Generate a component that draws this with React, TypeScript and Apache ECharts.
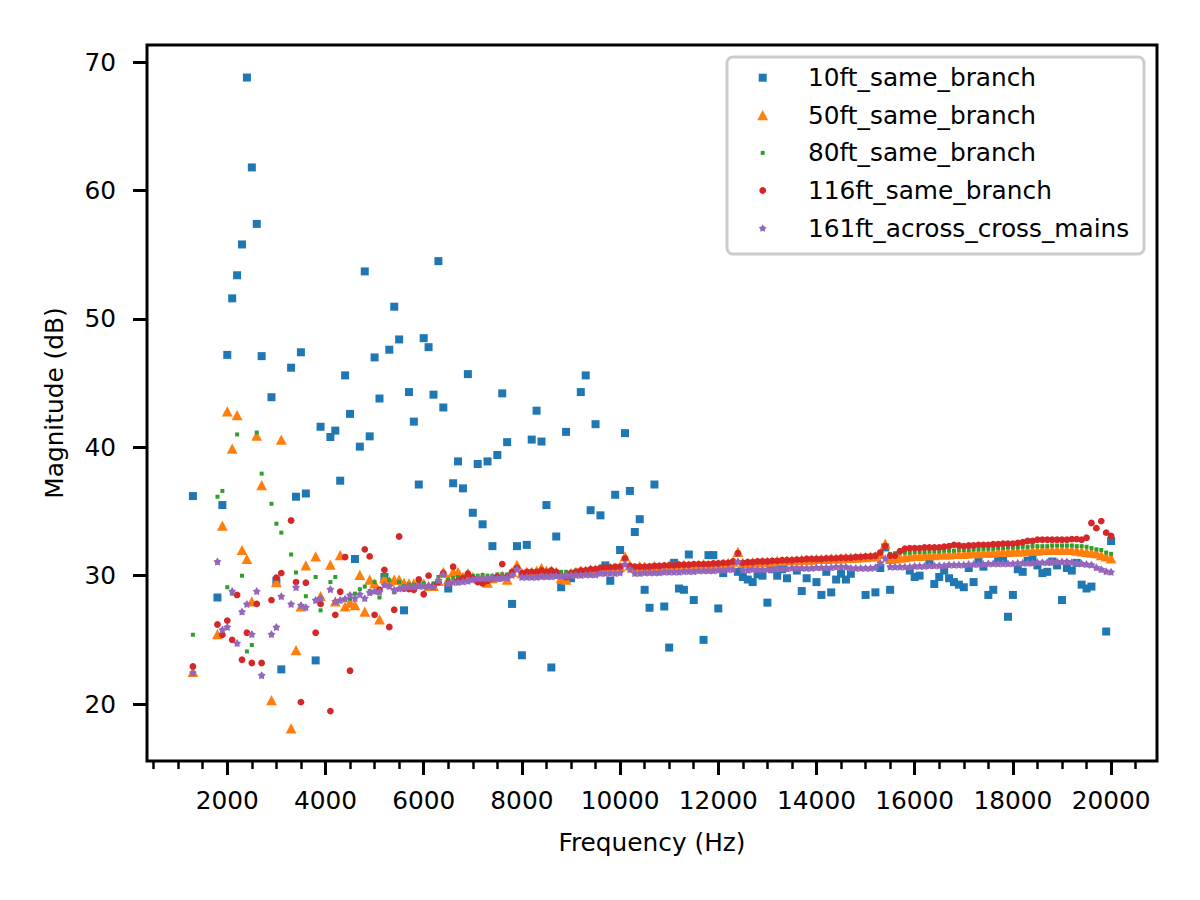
import React, { useEffect, useRef } from "react";
import * as echarts from "echarts";

// Frequency grid (Hz)
const FREQS = [
  1300, 1800, 1900,
  2000, 2100, 2200, 2300, 2400, 2500, 2600, 2700, 2800, 2900,
  3000, 3100, 3200, 3300, 3400, 3500, 3600, 3700, 3800, 3900,
  4000, 4100, 4200, 4300, 4400, 4500, 4600, 4700, 4800, 4900,
  5000, 5100, 5200, 5300, 5400, 5500, 5600, 5700, 5800, 5900,
  6000, 6100, 6200, 6300, 6400, 6500, 6600, 6700, 6800, 6900,
  7000, 7100, 7200, 7300, 7400, 7500, 7600, 7700, 7800, 7900,
  8000, 8100, 8200, 8300, 8400, 8500, 8600, 8700, 8800, 8900,
  9000, 9100, 9200, 9300, 9400, 9500, 9600, 9700, 9800, 9900,
  10000, 10100, 10200, 10300, 10400, 10500, 10600, 10700, 10800, 10900,
  11000, 11100, 11200, 11300, 11400, 11500, 11600, 11700, 11800, 11900,
  12000, 12100, 12200, 12300, 12400, 12500, 12600, 12700, 12800, 12900,
  13000, 13100, 13200, 13300, 13400, 13500, 13600, 13700, 13800, 13900,
  14000, 14100, 14200, 14300, 14400, 14500, 14600, 14700, 14800, 14900,
  15000, 15100, 15200, 15300, 15400, 15500, 15600, 15700, 15800, 15900,
  16000, 16100, 16200, 16300, 16400, 16500, 16600, 16700, 16800, 16900,
  17000, 17100, 17200, 17300, 17400, 17500, 17600, 17700, 17800, 17900,
  18000, 18100, 18200, 18300, 18400, 18500, 18600, 18700, 18800, 18900,
  19000, 19100, 19200, 19300, 19400, 19500, 19600, 19700, 19800, 19900,
  20000,
];

const FT10 = [
  36.2,
  28.3, 35.5,
  47.2, 51.6, 53.4, 55.8, 68.8, 61.8, 57.4, 47.1, null, 43.9,
  29.6, 22.7, null, 46.2, 36.15, 47.4, 36.4, null, 23.4, 41.6,
  null, 40.8, 41.3, 37.4, 45.6, 42.6, 31.3, 40.05, 53.7, 40.85,
  47.0, 43.8, 29.9, 47.6, 50.95, 48.4, 27.3, 44.3, 42.0, 37.1,
  48.5, 47.8, 44.1, 54.5, 43.1, 29.0, 37.2, 38.9, 36.8, 45.7,
  34.9, 38.7, 34.0, 38.9, 32.3, 39.4, 44.2, 40.4, 27.8, 32.3,
  23.8, 32.4, 40.6, 42.85, 40.45, 35.5, 22.85, 33.05, 29.1, 41.2,
  29.8, null, 44.3, 45.6, 35.1, 41.8, 34.7, 30.8, 29.6, 36.3,
  32.0, 41.1, 36.6, 33.4, 34.4, 28.9, 27.5, 37.1, null, 27.6,
  24.4, 31.0, 29.0, 28.9, 31.65, 28.1, null, 25.0, 31.6, 31.6,
  27.45, 30.2, null, null, 30.3, 29.9, 29.7, 29.5, 30.1, 30.0,
  27.9, 30.5, 30.0, 30.5, 29.8, null, 30.4, 28.8, 29.8, null,
  29.5, 28.5, 30.3, 28.7, 29.7, 30.15, 29.7, 30.15, null, null,
  28.5, null, 28.7, 30.6, 32.2, 28.9, null, null, null, 30.4,
  29.9, 30.0, null, 31.1, 29.35, 29.9, 30.4, 29.8, 29.5, 29.3,
  29.1, 30.6, 29.5, 31.3, 30.7, 28.5, 28.9, 31.3, 31.3, 26.8,
  28.5, 30.5, 30.3, 31.15, 31.3, 30.8, 30.2, 30.3, 31.1, 30.8,
  28.1, 30.6, 30.4, 31.0, 29.3, 29.0, 29.15, null, null, 25.65,
  32.7,
];

const FT50 = [
  22.5,
  25.45, 33.9,
  42.8, 39.9, 42.5, 32.0, 31.3, 28.0, 40.9, 37.05, null, 20.3,
  29.5, 40.6, null, 18.1, 24.2, 27.6, 30.8, null, 31.5, 28.4,
  null, 30.85, 28.0, 31.6, 27.6, 27.9, 27.7, 30.07, 27.2, 29.7,
  29.4, 26.6, 29.8, 29.55, 29.7, 29.7, 29.45, 29.4, 29.4, 29.45,
  29.4, 29.2, 29.2, 29.6, 30.3, 29.7, 30.3, 30.3, 29.9, 30.2,
  29.9, 29.8, 29.9, 29.45, 29.8, 29.9, 30.0, 29.7, 30.3, 30.85,
  30.2, 30.3, 30.3, 30.4, 30.6, 30.4, 30.4, 30.3, 29.8, 29.7,
  30.2, 30.3, 30.4, 30.4, 30.5, 30.5, 30.5, 30.6, 30.6, 30.6,
  30.7, 31.5, 30.8, 30.6, 30.75, 30.7, 30.65, 30.75, 30.7, 30.7,
  30.8, 30.75, 30.8, 30.85, 30.8, 30.8, 30.85, 30.9, 30.85, 30.9,
  30.9, 30.95, 31.0, 31.1, 31.85, 31.0, 31.0, 31.05, 31.05, 31.1,
  31.1, 31.1, 31.15, 31.15, 31.2, 31.2, 31.2, 31.25, 31.25, 31.25,
  31.3, 31.3, 31.3, 31.35, 31.35, 31.35, 31.4, 31.4, 31.4, 31.45,
  31.45, 31.5, 31.5, 31.7, 32.5, 31.3, 31.35, 31.4, 31.45, 31.5,
  31.55, 31.55, 31.6, 31.6, 31.6, 31.65, 31.65, 31.65, 31.7, 31.7,
  31.7, 31.75, 31.75, 31.75, 31.8, 31.8, 31.8, 31.85, 31.85, 31.85,
  31.9, 31.9, 31.9, 31.95, 31.95, 31.95, 32.0, 32.0, 32.0, 32.0,
  32.0, 32.0, 32.0, 31.95, 31.9, 31.85, 31.8, 31.75, 31.6, 31.5,
  31.35,
];

const FT80 = [
  25.4,
  36.15, 36.6,
  29.1, 28.6, 41.0, 30.0, 24.1, 24.6, 41.15, 37.95, null, 35.6,
  34.05, 33.35, null, 31.65, 30.25, null, 28.4, null, 29.9, 27.3,
  null, 29.5, 29.9, 28.8, null, 28.2, 28.6, 28.95, 29.15, 28.8,
  29.5, 28.3, 30.05, 29.65, 28.7, 29.5, 29.2, 29.3, 29.3, 29.4,
  29.4, 29.2, 29.4, 29.9, 30.1, 29.7, 29.8, 29.9, 29.9, 30.0,
  30.0, 30.0, 30.05, 30.0, 30.0, 30.1, 30.1, 30.1, 30.2, 30.5,
  30.2, 30.2, 30.3, 30.3, 30.3, 30.2, 30.2, 30.3, 30.3, 30.3,
  30.3, 30.4, 30.4, 30.45, 30.5, 30.5, 30.7, 30.6, 30.6, 30.6,
  30.7, 31.3, 30.8, 30.75, 30.75, 30.75, 30.8, 30.8, 30.8, 30.8,
  30.85, 30.85, 30.85, 30.9, 30.9, 30.9, 30.9, 30.95, 30.95, 30.95,
  31.0, 31.0, 31.0, 31.1, 31.7, 31.05, 31.1, 31.1, 31.1, 31.15,
  31.15, 31.2, 31.2, 31.2, 31.25, 31.25, 31.3, 31.3, 31.3, 31.3,
  31.35, 31.35, 31.35, 31.4, 31.4, 31.4, 31.45, 31.45, 31.5, 31.5,
  31.5, 31.55, 31.6, 31.8, 32.3, 31.7, 31.75, 31.8, 31.8, 31.8,
  31.85, 31.85, 31.85, 31.9, 31.9, 31.9, 31.95, 31.95, 31.95, 32.0,
  32.0, 32.0, 32.05, 32.05, 32.1, 32.1, 32.1, 32.15, 32.15, 32.2,
  32.2, 32.2, 32.25, 32.25, 32.3, 32.3, 32.3, 32.3, 32.35, 32.35,
  32.35, 32.35, 32.35, 32.3, 32.3, 32.25, 32.15, 32.05, 32.0, 31.8,
  31.7,
];

const FT116 = [
  22.93,
  26.2, 25.4,
  26.5, 25.0, 28.5, 23.45, 25.55, 23.2, 27.8, 23.2, null, 28.1,
  29.85, 30.2, null, 34.3, 29.5, 20.15, 29.45, null, 25.55, 27.8,
  null, 19.45, 26.95, 28.75, 31.45, 22.6, null, null, 32.05, 31.5,
  26.95, 28.9, 30.45, 26.0, 27.35, 33.05, 29.0, 28.95, 28.9, 29.7,
  28.55, 30.0, 29.2, 29.5, 30.2, 29.4, 30.7, 29.6, 29.8, 30.15,
  29.8, 29.5, 29.4, 29.6, 29.8, 29.9, 30.9, 29.9, 30.3, 30.6,
  30.2, 30.3, 30.3, 30.3, 30.4, 30.3, 30.4, 30.3, 30.0, 29.9,
  30.2, 30.3, 30.4, 30.4, 30.5, 30.5, 30.6, 30.65, 30.65, 30.7,
  30.7, 31.35, 30.75, 30.7, 30.7, 30.7, 30.7, 30.75, 30.75, 30.8,
  30.8, 30.8, 30.85, 30.85, 30.85, 30.9, 30.9, 30.9, 30.9, 30.95,
  30.95, 31.0, 31.0, 31.1, 31.75, 31.0, 31.05, 31.05, 31.1, 31.1,
  31.1, 31.15, 31.15, 31.2, 31.2, 31.2, 31.25, 31.25, 31.3, 31.3,
  31.3, 31.3, 31.35, 31.35, 31.35, 31.4, 31.4, 31.4, 31.45, 31.45,
  31.5, 31.5, 31.55, 31.8, 32.3, 31.55, 31.55, 31.9, 32.1, 32.15,
  32.15, 32.15, 32.2, 32.2, 32.2, 32.2, 32.25, 32.3, 32.4, 32.35,
  32.3, 32.35, 32.35, 32.4, 32.4, 32.4, 32.45, 32.45, 32.5, 32.5,
  32.5, 32.55, 32.6, 32.7, 32.7, 32.8, 32.8, 32.8, 32.8, 32.8,
  32.8, 32.8, 32.85, 32.85, 32.8, 32.95, 34.1, 33.7, 34.25, 33.35,
  33.1,
];

const FT161 = [
  22.45,
  31.1, 25.8,
  26.0, 28.8, 24.75, 27.2, 27.8, 25.45, 28.8, 22.25, null, 25.45,
  26.0, 28.4, null, 27.8, 29.1, 27.7, 27.55, null, 28.1, 28.25,
  null, 28.95, 28.0, 28.1, 28.2, 28.5, 28.25, 28.55, 28.25, 28.7,
  28.8, 28.75, 29.3, 29.2, 28.9, 29.0, 29.1, 29.15, 29.15, 29.2,
  29.2, 29.2, 29.15, 29.65, 30.1, 29.4, 29.5, 29.5, 29.55, 29.6,
  29.7, 29.8, 29.8, 29.8, 29.85, 29.8, 29.85, 29.85, 30.05, 30.5,
  29.9, 29.9, 29.9, 29.9, 29.95, 29.95, 29.95, 30.0, 30.0, 30.0,
  30.05, 30.05, 30.05, 30.1, 30.1, 30.1, 30.2, 30.2, 30.2, 30.2,
  30.25, 30.9, 30.5, 30.2, 30.2, 30.25, 30.25, 30.25, 30.25, 30.3,
  30.3, 30.3, 30.3, 30.35, 30.35, 30.35, 30.4, 30.4, 30.4, 30.4,
  30.45, 30.45, 30.5, 30.5, 31.1, 30.45, 30.45, 30.5, 30.5, 30.5,
  30.5, 30.5, 30.55, 30.55, 30.55, 30.6, 30.6, 30.6, 30.6, 30.6,
  30.65, 30.65, 30.65, 30.65, 30.7, 30.7, 30.7, 30.6, 30.6, 30.6,
  30.6, 30.6, 30.65, 31.0, 31.35, 30.7, 30.7, 30.7, 30.7, 30.7,
  30.75, 30.75, 30.75, 30.8, 30.8, 30.8, 30.8, 30.85, 30.85, 30.85,
  30.85, 30.9, 30.9, 30.9, 30.9, 30.95, 30.95, 30.95, 30.95, 30.95,
  30.95, 31.0, 31.0, 31.0, 31.0, 31.05, 31.05, 31.05, 31.1, 31.1,
  31.1, 31.1, 31.05, 31.0, 30.95, 30.9, 30.85, 30.65, 30.5, 30.35,
  30.3,
];

const SERIES_NAMES = [
  "10ft_same_branch",
  "50ft_same_branch",
  "80ft_same_branch",
  "116ft_same_branch",
  "161ft_across_cross_mains",
];

const X_MAJOR = [2000, 4000, 6000, 8000, 10000, 12000, 14000, 16000, 18000, 20000];
const X_MINOR = [
  500, 1000, 1500, 2000, 2500, 3000, 3500, 4000, 4500, 5000, 5500, 6000, 6500,
  7000, 7500, 8000, 8500, 9000, 9500, 10000, 10500, 11000, 11500, 12000, 12500,
  13000, 13500, 14000, 14500, 15000, 15500, 16000, 16500, 17000, 17500, 18000,
  18500, 19000, 19500, 20000, 20500,
];
const Y_TICKS = [20, 30, 40, 50, 60, 70];

const FONT = "DejaVu Sans";
const FS = 24.8;
const STAR =
  "path://M0,-10 L3.5,-4.8 L9.51,-3.09 L5.6,1.8 L5.88,8.09 L0,6 L-5.88,8.09 L-5.6,1.8 L-9.51,-3.09 L-3.5,-4.8 Z";

function pairs(vals: (number | null)[]) {
  const out: number[][] = [];
  FREQS.forEach((f, i) => {
    const v = vals[i];
    if (v !== null && v !== undefined) out.push([f, v]);
  });
  return out;
}

export default function App() {
  const ref = useRef<HTMLDivElement>(null);

  useEffect(() => {
    if (!ref.current) return;
    const chart = echarts.init(ref.current, null, { renderer: "svg" });

    const mx = 762.7;
    const rowY = [77.7, 115.3, 152.9, 190.5, 228.1];
    const starPts: number[][] = [];
    for (let k = 0; k < 10; k++) {
      const a = -Math.PI / 2 + (k * Math.PI) / 5;
      const r = k % 2 === 0 ? 4.0 : 2.4;
      starPts.push([mx + r * Math.cos(a), rowY[4] + 0.3 + r * Math.sin(a)]);
    }

    const legendGraphics: any[] = [
      {
        type: "rect",
        shape: { x: 727, y: 57, width: 417, height: 197, r: 6 },
        style: { fill: "rgba(255,255,255,0.8)", stroke: "#cccccc", lineWidth: 3 },
        z: 100,
      },
      {
        type: "rect",
        shape: { x: mx - 4, y: rowY[0] - 4, width: 8, height: 8 },
        style: { fill: "#1f77b4" },
        z: 101,
      },
      {
        type: "polygon",
        shape: {
          points: [
            [mx, rowY[1] - 5.3],
            [mx + 5.4, rowY[1] + 5],
            [mx - 5.4, rowY[1] + 5],
          ],
        },
        style: { fill: "#ff7f0e" },
        z: 101,
      },
      {
        type: "rect",
        shape: { x: mx - 2, y: rowY[2] - 2, width: 4, height: 4 },
        style: { fill: "#2ca02c" },
        z: 101,
      },
      {
        type: "circle",
        shape: { cx: mx, cy: rowY[3], r: 3.4 },
        style: { fill: "#d62728" },
        z: 101,
      },
      {
        type: "polygon",
        shape: { points: starPts },
        style: { fill: "#9467bd" },
        z: 101,
      },
    ];
    SERIES_NAMES.forEach((name, i) => {
      legendGraphics.push({
        type: "text",
        x: 808,
        y: rowY[i],
        style: {
          text: name,
          fontSize: FS,
          fontFamily: FONT,
          fill: "#000",
          verticalAlign: "middle",
          align: "left",
        },
        z: 101,
      });
    });

    const labelStyle = { fontSize: FS, fontFamily: FONT, color: "#000" };

    chart.setOption({
      animation: false,
      backgroundColor: "#fff",
      grid: {
        left: 147,
        top: 45,
        width: 1010,
        height: 716,
        show: true,
        borderColor: "#000",
        borderWidth: 3,
        backgroundColor: "transparent",
      },
      xAxis: [
        {
          type: "value",
          min: 365,
          max: 20935,
          position: "bottom",
          axisLine: { show: false, onZero: false },
          splitLine: { show: false },
          axisTick: {
            show: true,
            customValues: X_MAJOR,
            length: 14,
            lineStyle: { color: "#000", width: 3 },
          },
          axisLabel: {
            customValues: X_MAJOR,
            formatter: (v: number) => String(v),
            margin: 27,
            ...labelStyle,
          },
          name: "Frequency (Hz)",
          nameLocation: "middle",
          nameGap: 69,
          nameTextStyle: labelStyle,
        },
        {
          type: "value",
          min: 365,
          max: 20935,
          position: "bottom",
          axisLine: { show: false, onZero: false },
          splitLine: { show: false },
          axisLabel: { show: false },
          axisTick: {
            show: true,
            customValues: X_MINOR,
            length: 8,
            lineStyle: { color: "#000", width: 2.5 },
          },
        },
      ],
      yAxis: {
        type: "value",
        min: 15.565,
        max: 71.335,
        axisLine: { show: false, onZero: false },
        splitLine: { show: false },
        axisTick: {
          show: true,
          customValues: Y_TICKS,
          length: 14,
          lineStyle: { color: "#000", width: 3 },
        },
        axisLabel: {
          customValues: Y_TICKS,
          formatter: (v: number) => String(v),
          margin: 31,
          ...labelStyle,
        },
        name: "Magnitude (dB)",
        nameLocation: "middle",
        nameRotate: 90,
        nameGap: 80,
        nameTextStyle: labelStyle,
      },
      series: [
        {
          name: SERIES_NAMES[0],
          type: "scatter",
          data: pairs(FT10),
          symbol: "rect",
          symbolSize: 8,
          itemStyle: { color: "#1f77b4", opacity: 1 },
        },
        {
          name: SERIES_NAMES[1],
          type: "scatter",
          data: pairs(FT50),
          symbol: "triangle",
          symbolSize: [10.8, 10.2],
          itemStyle: { color: "#ff7f0e", opacity: 1 },
        },
        {
          name: SERIES_NAMES[2],
          type: "scatter",
          data: pairs(FT80),
          symbol: "rect",
          symbolSize: 4,
          itemStyle: { color: "#2ca02c", opacity: 1 },
        },
        {
          name: SERIES_NAMES[3],
          type: "scatter",
          data: pairs(FT116),
          symbol: "circle",
          symbolSize: 6.8,
          itemStyle: { color: "#d62728", opacity: 1 },
        },
        {
          name: SERIES_NAMES[4],
          type: "scatter",
          data: pairs(FT161),
          symbol: STAR,
          symbolSize: 8,
          itemStyle: { color: "#9467bd", opacity: 1 },
        },
      ],
      graphic: legendGraphics,
    });

    return () => {
      chart.dispose();
    };
  }, []);

  return (
    <div
      ref={ref}
      style={{ position: "fixed", left: 0, top: 0, width: 1200, height: 900, background: "#fff" }}
    />
  );
}
